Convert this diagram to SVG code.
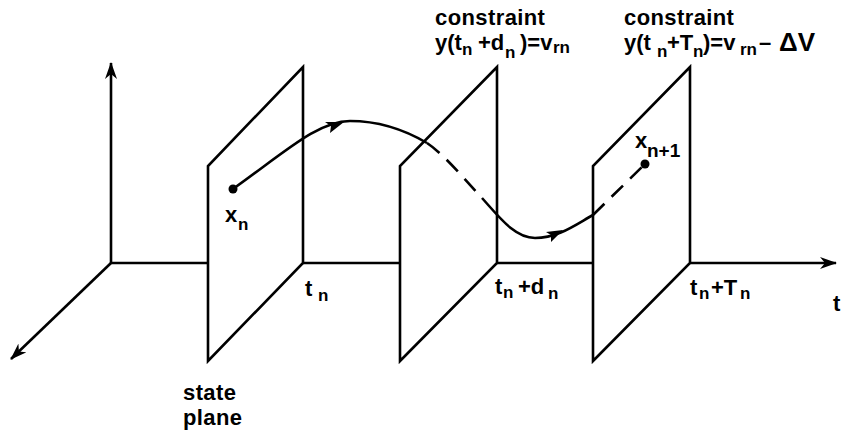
<svg xmlns="http://www.w3.org/2000/svg" width="841" height="432" viewBox="0 0 841 432">
<style>
.ln{fill:none;stroke:#000;stroke-width:2.6;stroke-linejoin:miter;stroke-linecap:butt}
.ds{fill:none;stroke:#000;stroke-width:2.6;stroke-dasharray:16,10}
.tx{font-family:"Liberation Sans",Arial,sans-serif;font-weight:bold;font-size:22px;fill:#000}
.sb{font-size:17px}
.wd{letter-spacing:0.4px}
</style>
<defs>
<marker id="ah" markerWidth="17" markerHeight="12" refX="16" refY="6" orient="auto" markerUnits="userSpaceOnUse">
<path d="M0,0 L17,6 L0,12 L5,6 Z" fill="#000"/>
</marker>
</defs>
<rect width="841" height="432" fill="#fff"/>
<g id="axes">
<line class="ln" x1="111" y1="263" x2="111" y2="63" marker-end="url(#ah)"/>
<line class="ln" x1="111" y1="263" x2="11" y2="359" marker-end="url(#ah)"/>
<line class="ln" x1="111" y1="263" x2="208" y2="263"/>
<line class="ln" x1="303" y1="263" x2="400" y2="263"/>
<line class="ln" x1="497" y1="263" x2="593" y2="263"/>
<line class="ln" x1="690" y1="263" x2="836" y2="263" marker-end="url(#ah)"/>
</g>
<g id="plane1">
<path class="ln" d="M208,361 L208,166 L303,67 L303,263 Z"/>
</g>
<g id="plane2">
<path class="ln" d="M400,361 L400,166 L497,67 L497,263 Z"/>
</g>
<g id="plane3">
<path class="ln" d="M593,361 L593,166 L690,67 L690,263 Z"/>
</g>
<g id="connectors">
<path class="ln" d="M233,189 C285,152 318,121 350,121 C378,121 405,130 427,143"/>
<path class="ds" d="M427,143 C445,155 465,180 482,198"/>
<path class="ln" d="M482,198 C500,218 515,238 535,238 C558,238 575,225 593,215"/>
<path class="ds" d="M593,215 L645,164" stroke-dasharray="14,9"/>
<path d="M344,122 L325,122 L331,126 L330,133 Z" fill="#000"/>
<path d="M563,230 L546,232 L551,235 L551,242 Z" fill="#000"/>
</g>
<g id="points">
<circle cx="233" cy="189" r="4.5" fill="#000"/>
<circle cx="645" cy="164" r="4.5" fill="#000"/>
</g>
<g id="labels">
<text class="tx wd" x="435" y="25">constraint</text>
<text class="tx" y="50"><tspan x="435">y(t</tspan><tspan class="sb" x="462" y="55">n</tspan><tspan x="478" y="50">+d</tspan><tspan class="sb" x="505" y="58">n</tspan><tspan x="520" y="50">)=v</tspan><tspan class="sb" x="553" y="53">rn</tspan></text>
<text class="tx wd" x="624" y="25">constraint</text>
<text class="tx" y="50"><tspan x="624">y(t</tspan><tspan class="sb" x="657" y="57">n</tspan><tspan x="667" y="50">+T</tspan><tspan class="sb" x="693" y="57">n</tspan><tspan x="703" y="50">)=v</tspan><tspan class="sb" x="740" y="55">rn</tspan><tspan x="759" y="50">–</tspan><tspan x="779" y="51" font-size="26">ΔV</tspan></text>
<text class="tx" y="222"><tspan x="225">x</tspan><tspan class="sb" x="238" y="230">n</tspan></text>
<text class="tx" y="148"><tspan x="635">x</tspan><tspan x="647" y="157" font-size="19">n+1</tspan></text>
<text class="tx" y="296"><tspan x="305">t</tspan><tspan class="sb" x="318" y="301">n</tspan></text>
<text class="tx" y="294"><tspan x="495">t</tspan><tspan class="sb" x="503" y="298">n</tspan><tspan x="518" y="294">+d</tspan><tspan class="sb" x="548" y="299">n</tspan></text>
<text class="tx" y="295"><tspan x="690">t</tspan><tspan class="sb" x="699" y="299">n</tspan><tspan x="711" y="295">+T</tspan><tspan class="sb" x="740" y="299">n</tspan></text>
<text class="tx" x="833" y="311">t</text>
<text class="tx wd" x="183" y="400">state</text>
<text class="tx wd" x="183" y="425">plane</text>
</g>
</svg>
